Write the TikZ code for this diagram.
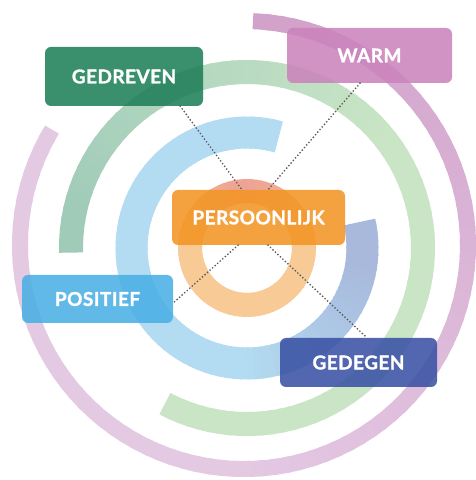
\documentclass[tikz,border=0pt]{standalone}
\usepackage{fontspec}
\setmainfont{Lato}[BoldFeatures={FakeBold=1.4,LetterSpace=2.5}]
\usepackage{xcolor}
\usetikzlibrary{calc}

\definecolor{ringsalmon}{HTML}{EDA494}
\definecolor{ringorange}{HTML}{F8CA95}
\definecolor{ringblue}{HTML}{B3DCF2}
\definecolor{ringperi}{HTML}{A8B9DC}
\definecolor{ringteal}{HTML}{A0CBB9}
\definecolor{ringgreen}{HTML}{CAE5C6}
\definecolor{ringpink}{HTML}{D2A2CB}
\definecolor{ringlav}{HTML}{E4C9E3}
\definecolor{boxgreen}{HTML}{1F7F58}
\definecolor{boxpink}{HTML}{CB84BC}
\definecolor{boxorange}{HTML}{F39524}
\definecolor{boxblue}{HTML}{4BAFE5}
\definecolor{boxnavy}{HTML}{3A52A4}

% ring made of short arcs, colour A -> B
% #1 centre, #2 radius, #3 width, #4 start, #5 end, #6 A, #7 B, #8 percent of A at \ang
\newcommand{\gradring}[8]{%
  \foreach \i in {0,...,89}{
    \pgfmathsetmacro{\ang}{#4+(#5-#4)/90*\i}
    \pgfmathsetmacro{\angb}{#4+(#5-#4)/90*min(\i+1.4,90)}
    \pgfmathsetmacro{\mix}{#8}
    \draw[line width=#3, #6!\mix!#7] (#1) ++(\ang:#2)
      arc[start angle=\ang, end angle=\angb, radius=#2];
  }}

\begin{document}
\begin{tikzpicture}[x=1pt, y=1pt,
  label box/.style={rounded corners=6pt, fill opacity=0.88, text opacity=1,
    text=white, inner sep=0pt, font=\bfseries\fontsize{19}{21}\selectfont},
  link/.style={line width=1.9pt, black!65, dash pattern=on 0pt off 3.4pt,
    line cap=round}]
  \useasboundingbox (0,0) rectangle (476,480);
  \clip (0,0) rectangle (476,480);
  \coordinate (c) at (247,232);
  \coordinate (cp) at (244,235);

  % outer purple ring - darker at the top right
  \gradring{cp}{224}{16pt}{87.7}{-211}{ringpink}{ringlav}{100*min(1,max(0,(\ang+90)/170))}
  % green ring - teal on the left
  \gradring{c}{176}{24pt}{181.5}{-117.8}{ringteal}{ringgreen}{100*min(1,max(0,(\ang-40)/130))}
  % blue ring - greyish blue on the right
  \gradring{c}{115.5}{32pt}{74}{373}{ringperi}{ringblue}{100*min(1,max(0,(\ang-265)/85))}
  % orange core - salmon at the top
  \gradring{c}{57}{24pt}{-92}{270}{ringsalmon}{ringorange}{100*pow(max(0,sin(\ang)),2)}

  % labels
  \node[label box, fill=boxgreen, minimum width=158, minimum height=59]
    (gedreven) at (124,403.5) {GEDREVEN};
  \node[label box, fill=boxpink, minimum width=165, minimum height=55]
    (warm) at (369.5,424.5) {WARM};
  \node[label box, fill=boxorange, minimum width=173, minimum height=55]
    (pers) at (258.5,262.5) {PERSOONLIJK};
  \node[label box, fill=boxblue, minimum width=151, minimum height=48]
    (positief) at (97.5,181) {POSITIEF};
  \node[label box, fill=boxnavy, minimum width=157, minimum height=49]
    (gedegen) at (358.5,117.5) {GEDEGEN};

  % dotted links to the centre
  \draw[link] ([xshift=-23pt]gedreven.south east) -- ([xshift=-16.5pt]pers.north);
  \draw[link] ([xshift=-9.5pt]warm.south) -- ([xshift=9.5pt]pers.north);
  \draw[link] ([xshift=-20.5pt]pers.south) -- ([yshift=-4pt]positief.east);
  \draw[link] ([xshift=9.5pt]pers.south) -- ([xshift=8.5pt]gedegen.north);
\end{tikzpicture}
\end{document}
